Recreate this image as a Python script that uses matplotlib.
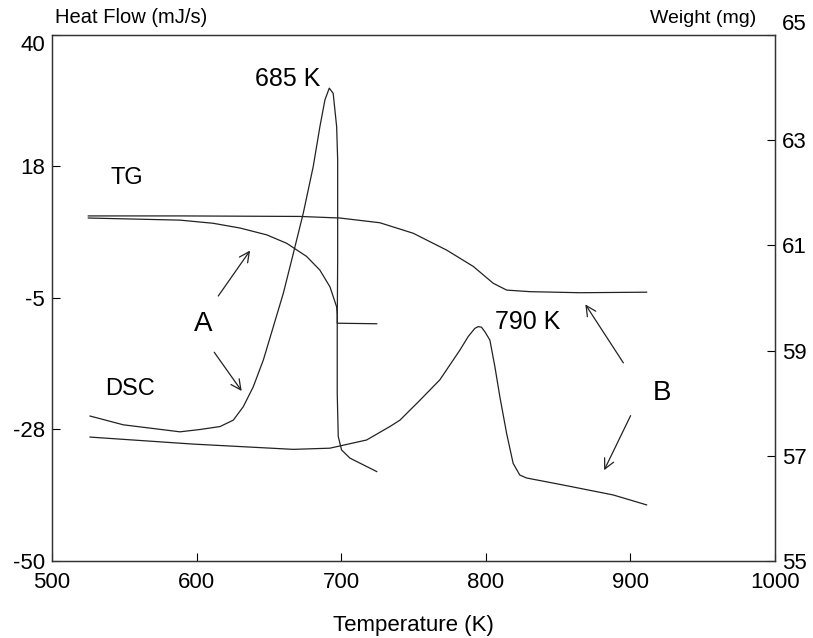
import matplotlib
matplotlib.use('Agg')
import matplotlib.pyplot as plt
import numpy as np

plt.rcParams['font.family'] = ['Liberation Sans', 'DejaVu Sans']

## DSC A (peak near 685 K), heat flow mJ/s
dsc_a_T = [526.3, 549.3, 588.5, 602.4, 616.2, 625.4, 632.3, 639.2, 646.2, 653.1, 660.0, 666.9, 673.8,
           680.7, 685.3, 688.8, 691.8, 694.5, 696.9, 697.6, 697.6, 697.3, 697.3, 698.0, 700.3, 706.1, 724.6]
dsc_a_q = [-25.2, -26.7, -27.9, -27.5, -27.0, -25.9, -23.6, -20.2, -15.6, -9.9, -4.2, 2.6, 9.5,
           17.5, 24.3, 28.9, 30.9, 30.0, 24.3, 18.6, 1.5, -9.9, -21.3, -28.7, -31.0, -32.4, -34.7]

## DSC B (peak near 790 K)
dsc_b_T = [526.3, 597.7, 666.9, 692.2, 717.6, 733.7, 740.7, 754.5, 768.3, 782.2, 787.9, 792.5, 794.8,
           797.1, 799.5, 802.9, 806.4, 809.8, 814.5, 819.0, 823.6, 828.3, 853.6, 888.2, 911.3]
dsc_b_q = [-28.8, -30.0, -30.9, -30.7, -29.3, -27.0, -25.9, -22.5, -19.0, -13.9, -11.6, -10.2, -9.9,
           -10.0, -10.8, -12.2, -16.8, -21.9, -28.2, -33.3, -35.3, -35.8, -37.0, -38.7, -40.4]

## TG A, weight mg
tg_a_T = [525.1, 588.5, 611.5, 630.0, 648.5, 662.3, 676.1, 685.3, 692.3, 696.9, 697.3, 697.3, 724.6]
tg_a_w = [61.52, 61.48, 61.42, 61.33, 61.20, 61.04, 60.79, 60.53, 60.21, 59.83, 59.68, 59.52, 59.51]

## TG B
tg_b_T = [525.1, 588.5, 671.5, 699.2, 726.8, 749.9, 773.0, 791.4, 805.2, 814.5, 830.6, 865.1, 911.3]
tg_b_w = [61.56, 61.56, 61.55, 61.52, 61.43, 61.23, 60.91, 60.60, 60.28, 60.15, 60.12, 60.10, 60.11]

left_ticks = [-50, -27.5, -5, 17.5, 40]
left_labels = ['-50', '-28', '-5', '18', '40']
right_ticks = [55, 57, 59, 61, 63, 65]
x_ticks = [500, 600, 700, 800, 900, 1000]

fig = plt.figure(figsize=(8.13, 6.38), dpi=100)
ax = fig.add_axes([0.064, 0.1207, 0.889, 0.8245])
ax2 = ax.twinx()

lc = '#222222'
ax.plot(dsc_a_T, dsc_a_q, color=lc, lw=0.9)
ax.plot(dsc_b_T, dsc_b_q, color=lc, lw=0.9)
ax2.plot(tg_a_T, tg_a_w, color=lc, lw=0.9)
ax2.plot(tg_b_T, tg_b_w, color=lc, lw=0.9)

ax.set_xlim(500, 1000)
ax.set_ylim(-50, 40)
ax2.set_ylim(55, 65)
ax.set_xticks(x_ticks)
ax.set_yticks(left_ticks)
ax.set_yticklabels(left_labels)
ax2.set_yticks(right_ticks)

for a in (ax, ax2):
    a.tick_params(direction='in', labelsize=16, length=6, width=0.8, colors='black')
    for s in a.spines.values():
        s.set_linewidth(0.9)
        s.set_color('#333333')
ax.tick_params(axis='x', pad=8)
ax.tick_params(axis='y', pad=5)
ax2.tick_params(axis='y', pad=5)

# corner labels pushed out like the original
ylabs = ax.get_yticklabels()
ylabs[-1].set_verticalalignment('top')
rlabs = ax2.get_yticklabels()
rlabs[-1].set_verticalalignment('bottom')

ax.set_xlabel('Temperature (K)', fontsize=16, labelpad=16)
fig.text(0.068, 0.958, 'Heat Flow (mJ/s)', fontsize=14.5, ha='left', va='bottom')
fig.text(0.93, 0.958, 'Weight (mg)', fontsize=14, ha='right', va='bottom')

ax.text(552, 15.5, 'TG', fontsize=17, ha='center', va='center')
ax.text(554, -20.6, 'DSC', fontsize=17, ha='center', va='center')
ax.text(662.7, 32.4, '685 K', fontsize=18, ha='center', va='center')
ax.text(829, -9.1, '790 K', fontsize=18, ha='center', va='center')
ax.text(604.4, -9.4, 'A', fontsize=20, ha='center', va='center')
ax.text(921.9, -21.3, 'B', fontsize=20, ha='center', va='center')

arrow = dict(arrowstyle='->', color=lc, lw=0.9, mutation_scale=18)
ax.annotate('', xy=(638.1, 3.5), xytext=(613.9, -5.05), arrowprops=arrow)
ax.annotate('', xy=(632.3, -21.3), xytext=(611.1, -13.9), arrowprops=arrow)
ax.annotate('', xy=(867.9, -5.7), xytext=(896.3, -16.5), arrowprops=arrow)
ax.annotate('', xy=(881.1, -34.9), xytext=(901.1, -24.7), arrowprops=arrow)

fig.savefig('out.png', dpi=100)
